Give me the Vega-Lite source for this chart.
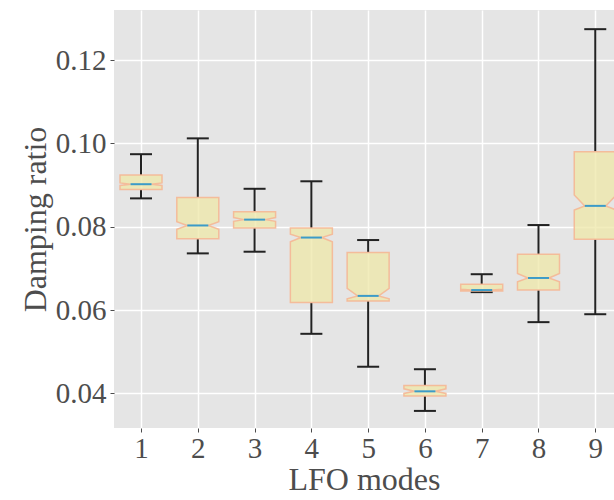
{
  "$schema": "https://vega.github.io/schema/vega-lite/v6.json",
  "autosize": "none",
  "width": 500,
  "height": 418,
  "padding": {"left": 114, "top": 10, "right": 0, "bottom": 72},
  "background": "white",
  "config": {
    "view": {"fill": "#E5E5E5", "stroke": null},
    "font": "Liberation Serif",
    "axis": {
      "domain": false,
      "grid": true,
      "gridColor": "white",
      "gridWidth": 1.5,
      "tickColor": "#4d4d4d",
      "tickSize": 4,
      "labelFont": "Liberation Serif",
      "labelFontSize": 29,
      "labelColor": "#4d4d4d",
      "titleFont": "Liberation Serif",
      "titleFontSize": 32,
      "titleFontWeight": "normal",
      "titleColor": "#4d4d4d"
    }
  },
  "data": {
    "values": [
      {"mode": 1, "lw": 0.0868, "q1": 0.0889, "nlo": 0.0899, "med": 0.0902, "nhi": 0.0905, "q3": 0.0924, "uw": 0.0974},
      {"mode": 2, "lw": 0.0736, "q1": 0.0771, "nlo": 0.0794, "med": 0.0803, "nhi": 0.0812, "q3": 0.0870, "uw": 0.1012},
      {"mode": 3, "lw": 0.0740, "q1": 0.0797, "nlo": 0.0813, "med": 0.0817, "nhi": 0.0822, "q3": 0.0836, "uw": 0.0891},
      {"mode": 4, "lw": 0.0543, "q1": 0.0618, "nlo": 0.0764, "med": 0.0774, "nhi": 0.0782, "q3": 0.0797, "uw": 0.0909},
      {"mode": 5, "lw": 0.0464, "q1": 0.0622, "nlo": 0.0627, "med": 0.0634, "nhi": 0.0652, "q3": 0.0738, "uw": 0.0768},
      {"mode": 6, "lw": 0.0358, "q1": 0.0394, "nlo": 0.0400, "med": 0.0405, "nhi": 0.0411, "q3": 0.0419, "uw": 0.0458},
      {"mode": 7, "lw": 0.0643, "q1": 0.0646, "nlo": 0.06465, "med": 0.0648, "nhi": 0.0650, "q3": 0.0662, "uw": 0.0686},
      {"mode": 8, "lw": 0.0571, "q1": 0.0648, "nlo": 0.0668, "med": 0.0677, "nhi": 0.0688, "q3": 0.0734, "uw": 0.0804},
      {"mode": 9, "lw": 0.0590, "q1": 0.0770, "nlo": 0.0840, "med": 0.0850, "nhi": 0.0876, "q3": 0.0980, "uw": 0.1274}
    ]
  },
  "encoding": {
    "x": {
      "field": "mode",
      "type": "quantitative",
      "scale": {"domain": [0.524, 9.33], "nice": false, "zero": false},
      "axis": {"values": [1, 2, 3, 4, 5, 6, 7, 8, 9], "format": "d", "title": "LFO modes", "labelPadding": 2, "titlePadding": 1}
    }
  },
  "layer": [
    {
      "mark": {"type": "rule", "color": "#222222", "strokeWidth": 2},
      "encoding": {
        "y": {
          "field": "lw",
          "type": "quantitative",
          "scale": {"domain": [0.0317, 0.132], "nice": false, "zero": false},
          "axis": {"values": [0.04, 0.06, 0.08, 0.1, 0.12], "format": ".2f", "title": "Damping ratio", "labelPadding": 4, "titlePadding": 3}
        },
        "y2": {"field": "q1"}
      }
    },
    {
      "mark": {"type": "rule", "color": "#222222", "strokeWidth": 2},
      "encoding": {
        "y": {"field": "q3", "type": "quantitative"},
        "y2": {"field": "uw"}
      }
    },
    {
      "transform": [{"fold": ["lw", "uw"], "as": ["cap", "capval"]}],
      "mark": {"type": "tick", "orient": "horizontal", "color": "#222222", "size": 22, "thickness": 2, "opacity": 1},
      "encoding": {
        "y": {"field": "capval", "type": "quantitative"}
      }
    },
    {
      "transform": [{"fold": ["q1", "nlo", "med", "nhi", "q3"], "as": ["stat", "val"]}],
      "mark": {
        "type": "area",
        "orient": "horizontal",
        "fill": "#EEE8AA",
        "fillOpacity": 0.78,
        "stroke": "#F5B795",
        "strokeWidth": 1.5,
        "strokeOpacity": 0.9,
        "xOffset": {"expr": "datum.stat === 'med' ? -10.5 : -21"},
        "x2Offset": {"expr": "datum.stat === 'med' ? 10.5 : 21"}
      },
      "encoding": {
        "y": {"field": "val", "type": "quantitative"},
        "x2": {"field": "mode"},
        "detail": {"field": "mode", "type": "nominal"}
      }
    },
    {
      "mark": {"type": "tick", "orient": "horizontal", "color": "#3C9BC8", "size": 21, "thickness": 2, "opacity": 1},
      "encoding": {
        "y": {"field": "med", "type": "quantitative"}
      }
    }
  ]
}
